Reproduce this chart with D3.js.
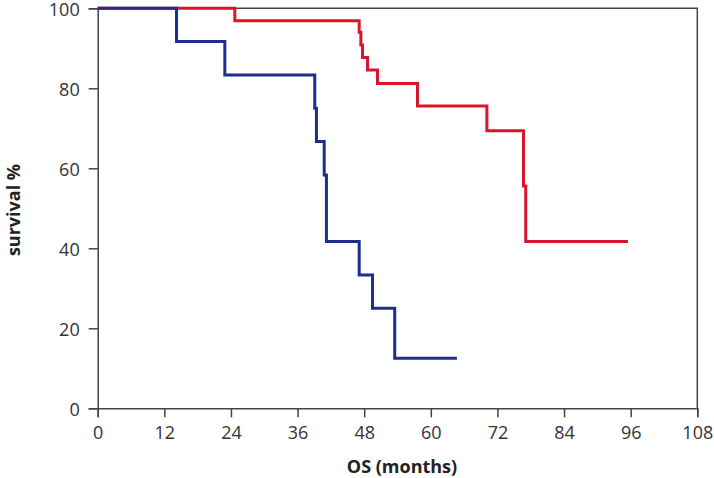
<!DOCTYPE html>
<html>
<head>
<meta charset="utf-8">
<script src="https://cdn.jsdelivr.net/npm/d3@7"></script>
<style>
  html, body { margin: 0; padding: 0; background: #fff; }
  svg { display: block; }
  .tick text { font-family: "Open Sans", "Noto Sans", sans-serif; font-size: 18px; fill: #333; }
  .title { font-family: "Open Sans", "Noto Sans", sans-serif; font-size: 18px; font-weight: bold; fill: #222; }
</style>
</head>
<body>
<div id="chart"></div>
<script>
// Data (Kaplan–Meier step curves): time in months, survival in %
const blueTimes    = [0, 14.2, 22.9, 39.1, 39.4, 40.8, 41.2, 47.1, 49.5, 53.5, 64.7];
const blueSurvival = [100, 91.7, 83.3, 75, 66.7, 58.3, 41.7, 33.3, 25, 12.5, 12.5];

const redTimes    = [0, 24.7, 47.1, 47.4, 47.7, 48.6, 50.4, 57.6, 70.1, 76.7, 77.1, 95.5];
const redSurvival = [100, 96.9, 94.0, 90.8, 87.7, 84.6, 81.2, 75.6, 69.4, 55.6, 41.7, 41.7];

const xTicks = [0, 12, 24, 36, 48, 60, 72, 84, 96, 108];
const yTicks = [0, 20, 40, 60, 80, 100];

const W = 714, H = 478;
const margin = { left: 97.7, right: W - 697.3, top: 8.3, bottom: H - 408.3 };

const svg = d3.select("#chart").append("svg").attr("width", W).attr("height", H);

const x = d3.scaleLinear().domain([0, 108]).range([margin.left, W - margin.right]);
const y = d3.scaleLinear().domain([0, 100]).range([H - margin.bottom, margin.top]);

const axisColor = "#444";

// Frame (top and right)
svg.append("path")
  .attr("d", `M${x(0)},${y(100)}H${x(108)}V${y(0)}`)
  .attr("fill", "none").attr("stroke", axisColor).attr("stroke-width", 1.5);

// Axes
const xAxis = svg.append("g").attr("transform", `translate(0,${y(0)})`)
  .call(d3.axisBottom(x).tickValues(xTicks).tickSize(9).tickPadding(9).tickFormat(d3.format("d")));
const yAxis = svg.append("g").attr("transform", `translate(${x(0)},0)`)
  .call(d3.axisLeft(y).tickValues(yTicks).tickSize(9).tickPadding(9).tickFormat(d3.format("d")));
[xAxis, yAxis].forEach(g => {
  g.select(".domain").attr("stroke", axisColor).attr("stroke-width", 1.5);
  g.selectAll(".tick line").attr("stroke", axisColor).attr("stroke-width", 1.5);
});
yAxis.selectAll(".tick text").attr("dy", "0.42em");

// Curves
const line = d3.line().x(d => x(d[0])).y(d => y(d[1])).curve(d3.curveStepAfter);
svg.append("path")
  .datum(redTimes.map((t, i) => [t, redSurvival[i]]))
  .attr("d", line).attr("fill", "none").attr("stroke", "#d8152b").attr("stroke-width", 3);
svg.append("path")
  .datum(blueTimes.map((t, i) => [t, blueSurvival[i]]))
  .attr("d", line).attr("fill", "none").attr("stroke", "#1f2d8c").attr("stroke-width", 3);

// Titles
svg.append("text").attr("class", "title")
  .attr("x", 402).attr("y", 473).attr("text-anchor", "middle")
  .text("OS (months)");
svg.append("text").attr("class", "title")
  .attr("transform", `translate(20,210) rotate(-90)`)
  .attr("text-anchor", "middle")
  .text("survival %");
</script>
</body>
</html>
